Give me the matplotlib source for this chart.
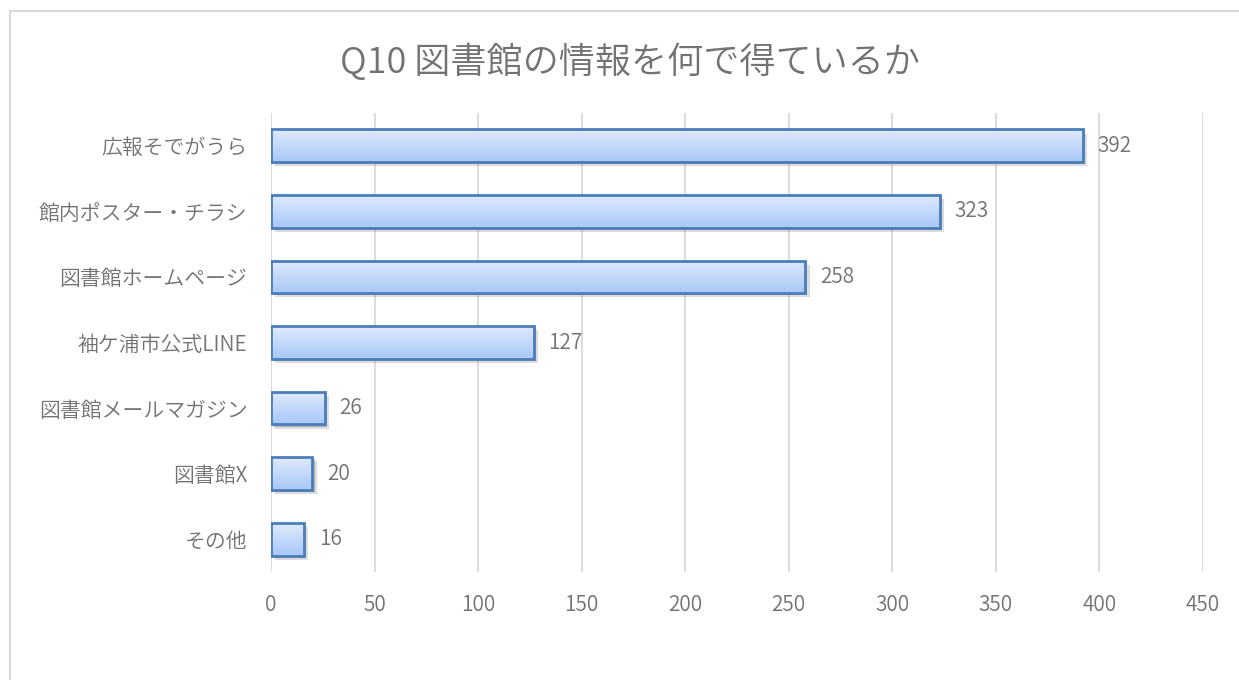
import matplotlib
matplotlib.use("Agg")
import matplotlib.pyplot as plt
import matplotlib.patheffects as pe
from matplotlib.lines import Line2D
import numpy as np

plt.rcParams['font.family'] = ['Noto Sans CJK JP', 'DejaVu Sans']

# data, top to bottom
categories = ['広報そでがうら', '館内ポスター・チラシ', '図書館ホームページ', '袖ケ浦市公式LINE',
              '図書館メールマガジン', '図書館X', 'その他']
counts = [392, 323, 258, 127, 26, 20, 16]
x_ticks = [0, 50, 100, 150, 200, 250, 300, 350, 400, 450]

text_gray = '#727272'
edge_blue = '#4a7ebb'
weight = 350

fig = plt.figure(figsize=(12.39, 6.8), dpi=100)
ax = fig.add_axes([271 / 1239, 1 - 572 / 680, 932 / 1239, 459 / 680])

ypos = np.arange(len(categories))
bar_h = 0.5

# gradient image (top light, bottom darker)
grad = np.linspace(0, 1, 64).reshape(-1, 1)
c_top = np.array([0xdf, 0xea, 0xfd]) / 255
c_bot = np.array([0xa8, 0xc8, 0xf7]) / 255
grad_img = c_top + (c_bot - c_top) * grad[..., None]

bars = ax.barh(ypos, counts, height=bar_h, color=c_bot, edgecolor='none', zorder=2,
               path_effects=[pe.SimplePatchShadow(offset=(3, -3), shadow_rgbFace='#777777', alpha=0.25),
                             pe.SimplePatchShadow(offset=(1.5, -1.5), shadow_rgbFace='#555555', alpha=0.3),
                             pe.Normal()])
for b in bars:
    x0, y0 = b.get_x(), b.get_y()
    w, h = b.get_width(), b.get_height()
    im = ax.imshow(grad_img, extent=(x0, x0 + w, y0 + h, y0), aspect='auto',
                   interpolation='bilinear', zorder=3)
    im.set_clip_path(b)
ax.barh(ypos, counts, height=bar_h, color='none', edgecolor=edge_blue, linewidth=2, zorder=4)

for y, v in zip(ypos, counts):
    ax.text(v + 7, y, str(v), va='center', ha='left', fontsize=15, color=text_gray,
            fontweight=weight, zorder=5)

ax.set_xlim(0, 450)
ax.set_ylim(len(categories) - 0.5, -0.5)
ax.set_xticks(x_ticks)
ax.set_yticks(ypos)
ax.set_yticklabels(categories)
ax.tick_params(axis='y', length=0, pad=17, labelsize=15, labelcolor=text_gray)
ax.tick_params(axis='x', length=0, pad=16, labelsize=15, labelcolor=text_gray)
for lbl in ax.get_xticklabels() + ax.get_yticklabels():
    lbl.set_fontweight(weight)
ax.grid(axis='x', color='#d9d9d9', linewidth=1.3, zorder=0)
ax.set_axisbelow(True)
for s in ax.spines.values():
    s.set_visible(False)

fig.text(630 / 1239, 1 - 62 / 680, 'Q10 図書館の情報を何で得ているか', ha='center', va='center',
         fontsize=26, color=text_gray, fontweight=weight)

# chart frame (left and top edges visible)
fig.add_artist(Line2D([9.5 / 1239, 9.5 / 1239], [0, 1 - 11 / 680], color='#d9d9d9', linewidth=1.5))
fig.add_artist(Line2D([9.5 / 1239, 1], [1 - 11 / 680, 1 - 11 / 680], color='#d9d9d9', linewidth=1.5))

fig.savefig('out.png', dpi=100, facecolor='white')
